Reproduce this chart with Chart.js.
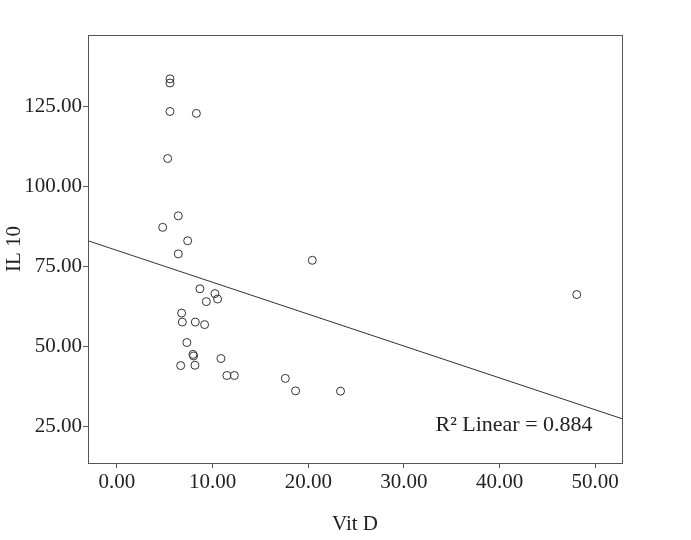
<!DOCTYPE html>
<html>
<head>
<meta charset="utf-8">
<script src="https://cdn.jsdelivr.net/npm/chart.js@4"></script>
<style>
html,body{margin:0;padding:0;background:#fff;}
#wrap{width:691px;height:540px;}
</style>
</head>
<body>
<div id="wrap"><canvas id="c" width="691" height="540"></canvas></div>
<script>
const vitD = [5.54, 5.54, 5.54, 8.30, 5.30, 6.41, 4.78, 7.39, 6.41,
  8.67, 10.24, 10.52, 9.34, 6.76, 6.83, 8.19, 9.16, 7.31, 7.94, 8.01,
  10.87, 6.66, 8.15, 11.49, 12.27, 20.42, 48.07, 17.60, 18.67, 23.37];
const il10 = [133.7, 132.4, 123.5, 122.9, 108.8, 90.9, 87.3, 83.1, 79.0,
  68.1, 66.6, 64.9, 64.1, 60.5, 57.7, 57.7, 56.9, 51.3, 47.6, 47.1,
  46.3, 44.1, 44.2, 41.0, 41.0, 77.0, 66.3, 40.1, 36.2, 36.1];
const fitX = [-3.03, 52.8];
const fitY = [83.1, 27.5];
const xTicks = [0, 10, 20, 30, 40, 50];
const yTicks = [25, 50, 75, 100, 125];
const xRange = [-3.03, 52.8];
const yRange = [13.66, 147.4];
const rLabel = "R\u00B2 Linear = 0.884";
const xTitle = "Vit D";
const yTitle = "IL 10";

const FONT = "'Liberation Serif', 'DejaVu Serif', serif";

const framePlugin = {
  id: 'frame',
  afterDraw(chart) {
    const {ctx, chartArea: a, scales} = chart;
    ctx.save();
    ctx.strokeStyle = '#555';
    ctx.lineWidth = 1;
    ctx.strokeRect(Math.round(a.left) + 0.5, Math.round(a.top) + 0.5,
      Math.round(a.right - a.left), Math.round(a.bottom - a.top));
    ctx.fillStyle = '#222';
    ctx.font = "22px " + FONT;
    ctx.textBaseline = 'alphabetic';
    ctx.textAlign = 'left';
    ctx.fillText(rLabel, scales.x.getPixelForValue(33.3), scales.y.getPixelForValue(23.8));
    ctx.restore();
  }
};

const pts = vitD.map((v, i) => ({x: v, y: il10[i]}));
const fit = fitX.map((v, i) => ({x: v, y: fitY[i]}));

new Chart(document.getElementById('c'), {
  type: 'scatter',
  data: {
    datasets: [
      {
        data: pts,
        pointRadius: 4,
        pointHoverRadius: 4,
        pointBorderWidth: 1,
        borderColor: '#333',
        backgroundColor: 'rgba(0,0,0,0)',
        pointBackgroundColor: 'rgba(0,0,0,0)'
      },
      {
        type: 'line',
        data: fit,
        pointRadius: 0,
        borderWidth: 1,
        borderColor: '#333',
        fill: false
      }
    ]
  },
  options: {
    responsive: false,
    animation: false,
    events: [],
    layout: {padding: {left: 0, top: 35, right: 69, bottom: 0}},
    plugins: {legend: {display: false}, tooltip: {enabled: false}},
    scales: {
      x: {
        type: 'linear',
        min: xRange[0],
        max: xRange[1],
        afterBuildTicks(s) { s.ticks = xTicks.map(v => ({value: v})); },
        afterFit(s) { s.height = 77; },
        grid: {display: true, drawOnChartArea: false, drawTicks: true, tickLength: 5, color: '#555'},
        border: {display: true, color: '#555'},
        ticks: {
          color: '#222',
          padding: 2,
          maxRotation: 0,
          font: {family: FONT, size: 21},
          callback: v => v.toFixed(2)
        },
        title: {
          display: true,
          text: xTitle,
          color: '#222',
          font: {family: FONT, size: 21},
          padding: {top: 0, bottom: 3}
        }
      },
      y: {
        type: 'linear',
        min: yRange[0],
        max: yRange[1],
        afterBuildTicks(s) { s.ticks = yTicks.map(v => ({value: v})); },
        afterFit(s) { s.width = 88; },
        grid: {display: true, drawOnChartArea: false, drawTicks: true, tickLength: 5, color: '#555'},
        border: {display: true, color: '#555'},
        ticks: {
          color: '#222',
          padding: 1,
          font: {family: FONT, size: 21},
          callback: v => v.toFixed(2)
        },
        title: {
          display: true,
          text: yTitle,
          color: '#222',
          font: {family: FONT, size: 21},
          padding: {top: 2, bottom: 0}
        }
      }
    }
  },
  plugins: [framePlugin]
});
</script>
</body>
</html>
